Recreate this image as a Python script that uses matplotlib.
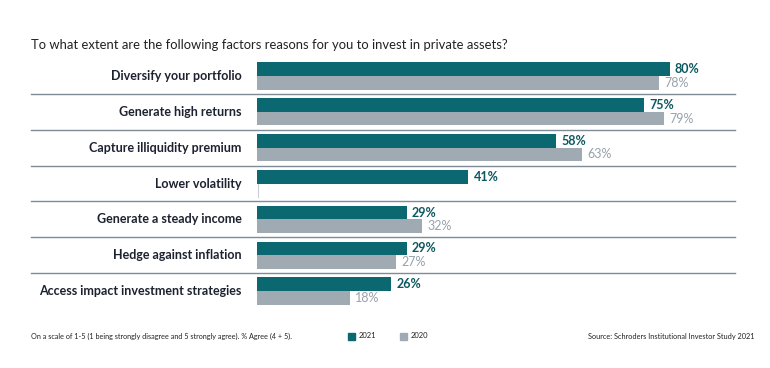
import numpy as np
import matplotlib
matplotlib.use('Agg')
import matplotlib.pyplot as plt
from matplotlib.patches import Rectangle

plt.rcParams['font.family'] = ['Lato', 'DejaVu Sans']

# data
categories = ['Diversify your portfolio', 'Generate high returns', 'Capture illiquidity premium',
              'Lower volatility', 'Generate a steady income', 'Hedge against inflation',
              'Access impact investment strategies']
vals_2021 = [80, 75, 58, 41, 29, 29, 26]
vals_2020 = [78, 79, 63, 0, 32, 27, 18]
labels_2020 = ['78%', '79%', '63%', '', '32%', '27%', '18%']

teal = '#0b6770'
grey = '#a0aab3'
teal_txt = '#0d5860'
grey_txt = '#98a2aa'

fig = plt.figure(figsize=(7.7, 3.68), dpi=100)
ax = fig.add_axes([257 / 770, 1 - 309 / 368, 473 / 770, 251 / 368])

y = np.arange(len(categories))
h = 0.38
ax.barh(y - h / 2, vals_2021, height=h, color=teal)
ax.barh(y + h / 2, vals_2020, height=h, color=grey)

ax.set_xlim(0, 91.7)
ax.set_ylim(6.5, -0.5)
ax.axis('off')

for i in range(len(categories)):
    ax.text(-0.032, i, categories[i], transform=ax.get_yaxis_transform(),
            ha='right', va='center', fontsize=9, fontweight='bold', color='#1c2230')
    ax.text(vals_2021[i] + 1, i - h / 2, f'{vals_2021[i]}%', ha='left', va='center',
            fontsize=9, fontweight='bold', color=teal_txt)
    if labels_2020[i]:
        ax.text(vals_2020[i] + 1, i + h / 2, labels_2020[i], ha='left', va='center',
                fontsize=9, color=grey_txt)
    if i < len(categories) - 1:
        ax.axhline(i + 0.5, xmin=-0.478, xmax=1.01, color='#7f8c96', lw=1, clip_on=False)

# thin stub where the 2020 bar is missing
ax.plot([0.1, 0.1], [3, 3 + h], color='#c8ced3', lw=0.8)

fig.text(31 / 770, 1 - 45 / 368, 'To what extent are the following factors reasons for you to invest in private assets?',
         ha='left', va='center', fontsize=9.4, color='#222222')

fy = 1 - 336 / 368
fig.text(31 / 770, fy, 'On a scale of 1-5 (1 being strongly disagree and 5 strongly agree). % Agree (4 + 5).',
         ha='left', va='center', fontsize=5.2, color='#222222')
fig.patches.append(Rectangle((348 / 770, fy - 3.5 / 368), 7 / 770, 7 / 368,
                             transform=fig.transFigure, color=teal))
fig.text(359 / 770, fy, '2021', ha='left', va='center', fontsize=5.5, color='#222222')
fig.patches.append(Rectangle((400 / 770, fy - 3.5 / 368), 7 / 770, 7 / 368,
                             transform=fig.transFigure, color=grey))
fig.text(411 / 770, fy, '2020', ha='left', va='center', fontsize=5.5, color='#222222')
fig.text(754 / 770, fy, 'Source: Schroders Institutional Investor Study 2021',
         ha='right', va='center', fontsize=5.3, color='#222222')

fig.savefig('out.png', dpi=100)
